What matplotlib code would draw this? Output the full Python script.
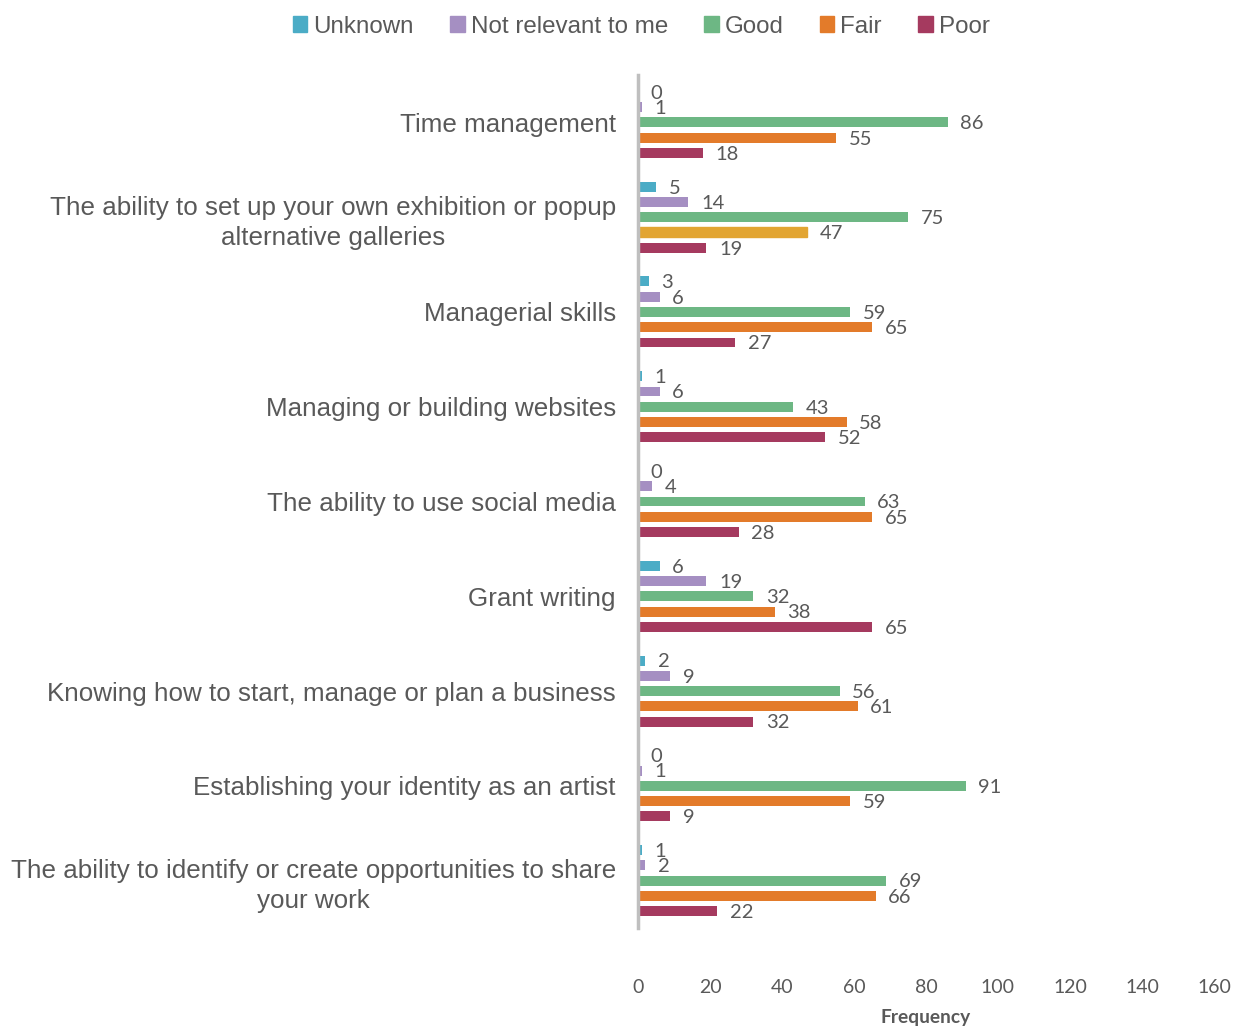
import numpy as np
import matplotlib
matplotlib.use('Agg')
import matplotlib.pyplot as plt
from matplotlib.patches import Patch

categories = [
    'Time management',
    'The ability to set up your own exhibition or popup\nalternative galleries',
    'Managerial skills',
    'Managing or building websites',
    'The ability to use social media',
    'Grant writing',
    'Knowing how to start, manage or plan a business',
    'Establishing your identity as an artist',
    'The ability to identify or create opportunities to share\nyour work',
]
series = ['Unknown', 'Not relevant to me', 'Good', 'Fair', 'Poor']
unknown = [0, 5, 3, 1, 0, 6, 2, 0, 1]
not_relevant = [1, 14, 6, 6, 4, 19, 9, 1, 2]
good = [86, 75, 59, 43, 63, 32, 56, 91, 69]
fair = [55, 47, 65, 58, 65, 38, 61, 59, 66]
poor = [18, 19, 27, 52, 28, 65, 32, 9, 22]
xticks = [0, 20, 40, 60, 80, 100, 120, 140, 160]

colors = ['#4bacc6', '#a58fc2', '#6db784', '#e37b2a', '#a53a5f']
gray = '#595959'

fig = plt.figure(figsize=(12.4, 10.28), dpi=100)
ax = fig.add_axes([0.5145, 0.0973, 0.4645, 0.8297])

y = np.arange(len(categories))
step = 0.161
height = 0.105
values = [unknown, not_relevant, good, fair, poor]
for i, (name, vals) in enumerate(zip(series, values)):
    pos = y + (i - 2) * step
    bars = ax.barh(pos, vals, height=height, color=colors[i], label=name)
    for b, v in zip(bars, vals):
        ax.annotate(str(v), (v, b.get_y() + b.get_height() / 2),
                    xytext=(9, -1), textcoords='offset points',
                    ha='left', va='center', fontsize=14.5,
                    family='Lato', color=gray)
    if name == 'Fair':
        # the exhibition row is drawn in a yellower orange in the source
        bars[1].set_color('#e2a532')

ax.set_xlim(0, 160)
ax.set_ylim(len(categories) - 0.5, -0.5)
ax.set_xticks(xticks)
ax.set_xticklabels([str(t) for t in xticks], family='Lato', fontsize=14,
                   color=gray)
ax.tick_params(axis='x', length=0, pad=37)
ax.set_yticks(y)
ax.set_yticklabels(categories, fontsize=18.7, family='Liberation Sans',
                   color=gray, linespacing=1.32, multialignment='center')
for lbl in ax.get_yticklabels():
    if '\n' in lbl.get_text():
        lbl.set_va('center_baseline')
ax.tick_params(axis='y', length=0, pad=16)
for s in ['top', 'right', 'bottom']:
    ax.spines[s].set_visible(False)
ax.spines['left'].set_color('#bfbfbf')
ax.spines['left'].set_linewidth(2.5)
ax.set_xlabel('Frequency', fontsize=13.8, family='Lato', fontweight='bold',
              color=gray, labelpad=9)

handles = [Patch(color=c) for c in colors]
fig.legend(handles, series, loc='upper center', bbox_to_anchor=(0.517, 1.006),
           ncol=5, frameon=False, handlelength=0.6, handleheight=0.6,
           handletextpad=0.25, columnspacing=1.5,
           prop={'family': 'Liberation Sans', 'size': 17.4},
           labelcolor=gray)

fig.savefig('out.png', dpi=100)
